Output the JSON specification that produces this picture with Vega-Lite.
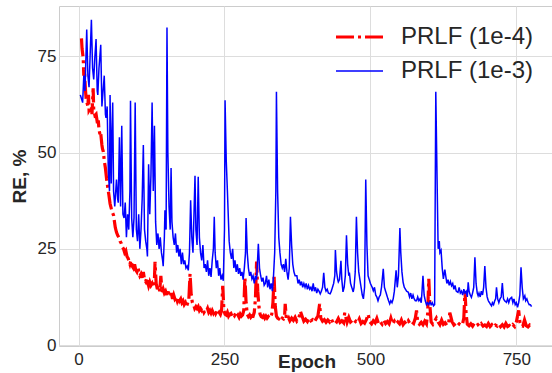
{
"$schema": "https://vega.github.io/schema/vega-lite/v6.json",
"width": 495, "height": 340,
"autosize": "none",
"padding": {"left": 59, "top": 6, "right": 0, "bottom": 27},
"background": "white",
"config": {"view": {"stroke": "#cccccc", "strokeWidth": 1}, "font": "Liberation Sans"},
"datasets": {
"red": [{"epoch":5,"re":79.7},{"epoch":6,"re":77},{"epoch":8,"re":74.5},{"epoch":9,"re":70},{"epoch":10,"re":72},{"epoch":11,"re":68.5},{"epoch":12,"re":66},{"epoch":13,"re":64},{"epoch":14,"re":63.3},{"epoch":16,"re":62},{"epoch":17,"re":65},{"epoch":18,"re":61},{"epoch":20,"re":61.5},{"epoch":22,"re":62},{"epoch":23,"re":60},{"epoch":25,"re":66.7},{"epoch":26,"re":61},{"epoch":28,"re":59.7},{"epoch":30,"re":60},{"epoch":32,"re":58},{"epoch":34,"re":58},{"epoch":35,"re":56},{"epoch":37,"re":54.5},{"epoch":38,"re":55},{"epoch":40,"re":52},{"epoch":41,"re":51},{"epoch":42.5,"re":50.2},{"epoch":44,"re":48},{"epoch":46,"re":46},{"epoch":48,"re":43.2},{"epoch":50,"re":41},{"epoch":52,"re":39},{"epoch":54,"re":36.7},{"epoch":56,"re":35.5},{"epoch":58,"re":34.5},{"epoch":60,"re":33.7},{"epoch":62,"re":31.5},{"epoch":63,"re":30.5},{"epoch":65,"re":29.3},{"epoch":67,"re":28.5},{"epoch":69,"re":28},{"epoch":71,"re":27},{"epoch":73,"re":26.5},{"epoch":75,"re":25.5},{"epoch":77,"re":25},{"epoch":79,"re":24},{"epoch":81,"re":24.5},{"epoch":83,"re":23},{"epoch":85,"re":22.5},{"epoch":87,"re":21.5},{"epoch":88,"re":21},{"epoch":90,"re":22},{"epoch":92,"re":20.5},{"epoch":94,"re":20},{"epoch":96,"re":21},{"epoch":98,"re":19.5},{"epoch":100,"re":19},{"epoch":102,"re":20},{"epoch":104,"re":18.5},{"epoch":105,"re":18},{"epoch":107,"re":18.5},{"epoch":109,"re":17.5},{"epoch":111,"re":19},{"epoch":113,"re":17},{"epoch":115,"re":16.5},{"epoch":117,"re":17.5},{"epoch":119,"re":16},{"epoch":120,"re":15.4},{"epoch":122,"re":16.4},{"epoch":124,"re":15.5},{"epoch":126,"re":16},{"epoch":128,"re":15},{"epoch":130,"re":17},{"epoch":131,"re":21.6},{"epoch":133,"re":16},{"epoch":135,"re":14.5},{"epoch":137,"re":15.5},{"epoch":139,"re":14},{"epoch":141,"re":18},{"epoch":143,"re":13.5},{"epoch":145,"re":14.5},{"epoch":147,"re":13.5},{"epoch":149,"re":14},{"epoch":151,"re":13},{"epoch":153,"re":14.5},{"epoch":155,"re":13},{"epoch":157,"re":12.5},{"epoch":159,"re":13.5},{"epoch":161,"re":12},{"epoch":163,"re":13},{"epoch":165,"re":12},{"epoch":167,"re":12.5},{"epoch":169,"re":11.5},{"epoch":171,"re":12.5},{"epoch":173,"re":11.5},{"epoch":175,"re":12},{"epoch":177,"re":11},{"epoch":179,"re":11.5},{"epoch":181,"re":10.5},{"epoch":183,"re":11},{"epoch":185,"re":10},{"epoch":187,"re":11},{"epoch":189,"re":12},{"epoch":191,"re":18.5},{"epoch":193,"re":13},{"epoch":195,"re":11},{"epoch":197,"re":10.5},{"epoch":199,"re":9.5},{"epoch":201,"re":10},{"epoch":203,"re":9.5},{"epoch":205,"re":10},{"epoch":207,"re":9},{"epoch":209,"re":9.5},{"epoch":211,"re":9},{"epoch":213,"re":9.5},{"epoch":215,"re":8.5},{"epoch":217,"re":9},{"epoch":219,"re":8.8},{"epoch":221,"re":9.5},{"epoch":223,"re":8.5},{"epoch":225,"re":9},{"epoch":227,"re":8.3},{"epoch":229,"re":9},{"epoch":231,"re":8.3},{"epoch":233,"re":9},{"epoch":235,"re":8.2},{"epoch":237,"re":8.8},{"epoch":239,"re":8},{"epoch":241,"re":8.5},{"epoch":243,"re":8},{"epoch":245,"re":9},{"epoch":247,"re":15.4},{"epoch":249,"re":9},{"epoch":251,"re":8},{"epoch":253,"re":7.8},{"epoch":255,"re":8.5},{"epoch":257,"re":7.5},{"epoch":259,"re":8},{"epoch":261,"re":8.2},{"epoch":263,"re":7.5},{"epoch":265,"re":8},{"epoch":267,"re":7.6},{"epoch":269,"re":8.2},{"epoch":271,"re":7.4},{"epoch":273,"re":7.8},{"epoch":275,"re":7.2},{"epoch":277,"re":8},{"epoch":279,"re":7.5},{"epoch":281,"re":7.8},{"epoch":283,"re":9},{"epoch":285,"re":17.7},{"epoch":287,"re":11},{"epoch":289,"re":8},{"epoch":291,"re":7.4},{"epoch":293,"re":7.8},{"epoch":295,"re":7.2},{"epoch":297,"re":7.6},{"epoch":299,"re":7.5},{"epoch":301,"re":8.5},{"epoch":303,"re":12},{"epoch":305,"re":21.7},{"epoch":307,"re":14},{"epoch":309,"re":10},{"epoch":311,"re":8},{"epoch":313,"re":7.4},{"epoch":315,"re":7.2},{"epoch":317,"re":7.6},{"epoch":319,"re":7},{"epoch":321,"re":7.5},{"epoch":323,"re":7},{"epoch":325,"re":7.4},{"epoch":327,"re":7},{"epoch":329,"re":7.2},{"epoch":331,"re":8},{"epoch":333,"re":11},{"epoch":335,"re":17.7},{"epoch":337,"re":10},{"epoch":339,"re":7.5},{"epoch":341,"re":7},{"epoch":343,"re":6.8},{"epoch":345,"re":7.2},{"epoch":347,"re":6.6},{"epoch":349,"re":7},{"epoch":351,"re":6.8},{"epoch":353,"re":7.5},{"epoch":354,"re":10.7},{"epoch":356,"re":6.8},{"epoch":358,"re":6.5},{"epoch":360,"re":7},{"epoch":362,"re":6.3},{"epoch":365,"re":7.0},{"epoch":368,"re":6.4},{"epoch":371,"re":7.2},{"epoch":374,"re":6.2},{"epoch":377,"re":6.8},{"epoch":380,"re":8.8},{"epoch":383,"re":7.5},{"epoch":386,"re":6.2},{"epoch":389,"re":6.7},{"epoch":392,"re":6.1},{"epoch":395,"re":7.0},{"epoch":398,"re":6.3},{"epoch":401,"re":6.6},{"epoch":404,"re":6.0},{"epoch":407,"re":6.8},{"epoch":410,"re":7.5},{"epoch":413,"re":10.7},{"epoch":415,"re":7.0},{"epoch":418,"re":6.2},{"epoch":421,"re":6.6},{"epoch":424,"re":5.9},{"epoch":427,"re":6.5},{"epoch":430,"re":6.0},{"epoch":433,"re":6.8},{"epoch":436,"re":5.8},{"epoch":439,"re":6.4},{"epoch":442,"re":6.0},{"epoch":445,"re":6.9},{"epoch":448,"re":5.9},{"epoch":451,"re":6.3},{"epoch":454,"re":5.8},{"epoch":456,"re":8.4},{"epoch":460,"re":5.9},{"epoch":463,"re":7.2},{"epoch":466,"re":6.0},{"epoch":469,"re":6.4},{"epoch":472,"re":5.7},{"epoch":475,"re":6.2},{"epoch":478,"re":5.8},{"epoch":481,"re":6.8},{"epoch":484,"re":5.6},{"epoch":487,"re":6.1},{"epoch":490,"re":5.7},{"epoch":493,"re":6.6},{"epoch":496,"re":8.0},{"epoch":499,"re":6.0},{"epoch":502,"re":5.5},{"epoch":505,"re":6.3},{"epoch":508,"re":5.8},{"epoch":511,"re":6.9},{"epoch":514,"re":5.5},{"epoch":517,"re":6.0},{"epoch":520,"re":5.4},{"epoch":523,"re":6.4},{"epoch":526,"re":5.6},{"epoch":529,"re":6.1},{"epoch":532,"re":5.5},{"epoch":535,"re":7.0},{"epoch":538,"re":5.5},{"epoch":541,"re":6.2},{"epoch":544,"re":5.4},{"epoch":547,"re":6.0},{"epoch":550,"re":5.5},{"epoch":553,"re":6.5},{"epoch":556,"re":5.3},{"epoch":559,"re":5.9},{"epoch":562,"re":5.4},{"epoch":565,"re":6.3},{"epoch":568,"re":5.5},{"epoch":571,"re":6.0},{"epoch":574,"re":5.6},{"epoch":577,"re":7.0},{"epoch":579,"re":9.0},{"epoch":581,"re":6.0},{"epoch":584,"re":5.4},{"epoch":587,"re":5.9},{"epoch":590,"re":5.3},{"epoch":593,"re":6.2},{"epoch":596,"re":5.5},{"epoch":598,"re":8},{"epoch":600,"re":17.2},{"epoch":602,"re":10},{"epoch":604,"re":6.0},{"epoch":607,"re":5.4},{"epoch":610,"re":6.2},{"epoch":613,"re":7.0},{"epoch":616,"re":6.0},{"epoch":619,"re":5.3},{"epoch":622,"re":6.5},{"epoch":625,"re":5.4},{"epoch":628,"re":5.8},{"epoch":631,"re":5.1},{"epoch":634,"re":5.7},{"epoch":636,"re":8.4},{"epoch":640,"re":6.0},{"epoch":643,"re":5.2},{"epoch":646,"re":5.6},{"epoch":649,"re":5.0},{"epoch":652,"re":5.5},{"epoch":655,"re":5.1},{"epoch":658,"re":5.6},{"epoch":660,"re":7},{"epoch":662,"re":14},{"epoch":664,"re":8},{"epoch":666,"re":5.4},{"epoch":669,"re":5.0},{"epoch":672,"re":5.5},{"epoch":675,"re":4.9},{"epoch":678,"re":5.6},{"epoch":681,"re":5.0},{"epoch":684,"re":5.3},{"epoch":687,"re":4.8},{"epoch":690,"re":5.5},{"epoch":693,"re":4.9},{"epoch":696,"re":5.2},{"epoch":699,"re":4.8},{"epoch":702,"re":5.6},{"epoch":705,"re":4.8},{"epoch":708,"re":5.3},{"epoch":711,"re":4.7},{"epoch":714,"re":5.2},{"epoch":717,"re":4.9},{"epoch":720,"re":5.5},{"epoch":723,"re":4.8},{"epoch":726,"re":5.3},{"epoch":729,"re":4.7},{"epoch":732,"re":5.6},{"epoch":735,"re":4.8},{"epoch":738,"re":5.1},{"epoch":741,"re":4.7},{"epoch":744,"re":5.3},{"epoch":747,"re":4.8},{"epoch":750,"re":6},{"epoch":752,"re":7.5},{"epoch":754,"re":9},{"epoch":756,"re":6},{"epoch":758,"re":5},{"epoch":761,"re":4.9},{"epoch":764,"re":6.5},{"epoch":767,"re":5},{"epoch":770,"re":4.7},{"epoch":773,"re":5.2},{"epoch":776,"re":4.8}],
"blue": [{"epoch":3,"re":65},{"epoch":5,"re":64},{"epoch":7,"re":63},{"epoch":9,"re":70},{"epoch":11,"re":66},{"epoch":14,"re":82},{"epoch":16,"re":70},{"epoch":18,"re":67},{"epoch":20,"re":76},{"epoch":22,"re":84.5},{"epoch":24,"re":72},{"epoch":26,"re":69},{"epoch":28,"re":75},{"epoch":30,"re":79.5},{"epoch":32,"re":66},{"epoch":33,"re":65},{"epoch":35,"re":72},{"epoch":38,"re":78},{"epoch":40,"re":62},{"epoch":42,"re":66},{"epoch":44,"re":70},{"epoch":46,"re":60},{"epoch":47,"re":59},{"epoch":49,"re":62},{"epoch":51,"re":45},{"epoch":53,"re":40},{"epoch":54,"re":65},{"epoch":56,"re":42},{"epoch":57,"re":53},{"epoch":58.5,"re":63},{"epoch":60,"re":40},{"epoch":62,"re":36},{"epoch":65,"re":43},{"epoch":67,"re":38},{"epoch":68,"re":37},{"epoch":70,"re":54},{"epoch":72,"re":36},{"epoch":74,"re":57},{"epoch":76,"re":34},{"epoch":78,"re":33},{"epoch":80,"re":37},{"epoch":82,"re":28},{"epoch":84,"re":34},{"epoch":86,"re":30},{"epoch":88,"re":40},{"epoch":89,"re":63.5},{"epoch":91,"re":33},{"epoch":93,"re":28},{"epoch":95,"re":33},{"epoch":97,"re":63},{"epoch":99,"re":30},{"epoch":101,"re":27},{"epoch":103,"re":34},{"epoch":105,"re":25},{"epoch":107,"re":30},{"epoch":109,"re":38},{"epoch":111,"re":52},{"epoch":113,"re":30},{"epoch":115,"re":27},{"epoch":117,"re":25},{"epoch":118,"re":23},{"epoch":120,"re":47},{"epoch":122,"re":34},{"epoch":124,"re":44},{"epoch":126,"re":63},{"epoch":128,"re":40},{"epoch":130,"re":57},{"epoch":132,"re":32},{"epoch":134,"re":26},{"epoch":136,"re":29},{"epoch":138,"re":25},{"epoch":140,"re":28},{"epoch":142,"re":24},{"epoch":144,"re":22},{"epoch":145,"re":20.5},{"epoch":147,"re":28},{"epoch":148,"re":35},{"epoch":150,"re":30},{"epoch":151.5,"re":82.5},{"epoch":153,"re":50},{"epoch":155,"re":36},{"epoch":157,"re":30},{"epoch":158.5,"re":46},{"epoch":160,"re":32},{"epoch":162,"re":28},{"epoch":164,"re":26},{"epoch":166,"re":29},{"epoch":168,"re":24},{"epoch":170,"re":26},{"epoch":172,"re":23},{"epoch":174,"re":25},{"epoch":176,"re":21},{"epoch":178,"re":24},{"epoch":180,"re":21},{"epoch":182,"re":22},{"epoch":184,"re":20},{"epoch":186,"re":20.5},{"epoch":188,"re":19.4},{"epoch":190,"re":24},{"epoch":192,"re":37.6},{"epoch":194,"re":28},{"epoch":196,"re":24},{"epoch":199.5,"re":44},{"epoch":201,"re":30},{"epoch":203,"re":26},{"epoch":205,"re":43.7},{"epoch":207,"re":28},{"epoch":209,"re":24},{"epoch":211,"re":22},{"epoch":213,"re":26},{"epoch":215,"re":20},{"epoch":217,"re":21},{"epoch":219,"re":19},{"epoch":221,"re":22},{"epoch":223,"re":18},{"epoch":225,"re":20},{"epoch":227,"re":17.7},{"epoch":229,"re":22},{"epoch":231,"re":25},{"epoch":232.5,"re":33.3},{"epoch":234,"re":24},{"epoch":236,"re":20},{"epoch":238,"re":22},{"epoch":240,"re":18},{"epoch":242,"re":20},{"epoch":244,"re":17},{"epoch":246,"re":18},{"epoch":248,"re":16.7},{"epoch":250,"re":30},{"epoch":251,"re":63.6},{"epoch":253,"re":48},{"epoch":255,"re":40},{"epoch":258,"re":27},{"epoch":260,"re":24},{"epoch":262,"re":22.4},{"epoch":264,"re":25},{"epoch":266,"re":20},{"epoch":268,"re":22},{"epoch":270,"re":19},{"epoch":272,"re":21},{"epoch":274,"re":18.5},{"epoch":276,"re":20},{"epoch":278,"re":18},{"epoch":280,"re":19},{"epoch":282,"re":17},{"epoch":284,"re":20},{"epoch":286,"re":24},{"epoch":287,"re":33},{"epoch":289,"re":24},{"epoch":291,"re":20},{"epoch":293,"re":18},{"epoch":295,"re":19},{"epoch":297,"re":17.2},{"epoch":299,"re":18},{"epoch":301,"re":16},{"epoch":303,"re":18},{"epoch":305,"re":17},{"epoch":306,"re":20},{"epoch":308,"re":26.3},{"epoch":310,"re":20},{"epoch":312,"re":18},{"epoch":314,"re":16.5},{"epoch":316,"re":17.5},{"epoch":318,"re":15.5},{"epoch":320,"re":16},{"epoch":322,"re":18},{"epoch":324,"re":15},{"epoch":326,"re":17},{"epoch":328,"re":14.5},{"epoch":330,"re":16},{"epoch":332,"re":14},{"epoch":334,"re":18},{"epoch":336,"re":24},{"epoch":338,"re":40},{"epoch":339,"re":65.8},{"epoch":341,"re":40},{"epoch":343,"re":28},{"epoch":345,"re":24},{"epoch":347,"re":21},{"epoch":349,"re":20},{"epoch":351,"re":21},{"epoch":353,"re":19},{"epoch":355,"re":22.4},{"epoch":357,"re":19},{"epoch":359,"re":17},{"epoch":361,"re":20},{"epoch":363,"re":33.3},{"epoch":365,"re":26},{"epoch":367,"re":21},{"epoch":369,"re":19},{"epoch":371,"re":18},{"epoch":374,"re":18},{"epoch":376,"re":16},{"epoch":378,"re":17},{"epoch":380,"re":15.5},{"epoch":382,"re":16.5},{"epoch":384,"re":15},{"epoch":386,"re":16},{"epoch":388,"re":15},{"epoch":390,"re":16},{"epoch":392,"re":14.5},{"epoch":394,"re":15.5},{"epoch":396,"re":14.5},{"epoch":398,"re":15},{"epoch":400,"re":14},{"epoch":402,"re":16},{"epoch":404,"re":14},{"epoch":406,"re":15},{"epoch":408,"re":13.5},{"epoch":410,"re":14.5},{"epoch":412,"re":14},{"epoch":414,"re":13.3},{"epoch":416,"re":14},{"epoch":418,"re":15},{"epoch":420,"re":18.8},{"epoch":422,"re":15},{"epoch":424,"re":14},{"epoch":426,"re":14.5},{"epoch":428,"re":13.5},{"epoch":431,"re":13.3},{"epoch":433,"re":14},{"epoch":435,"re":15},{"epoch":437,"re":16},{"epoch":439,"re":18},{"epoch":440,"re":24.7},{"epoch":442,"re":19},{"epoch":444,"re":17},{"epoch":445,"re":16.4},{"epoch":447,"re":17},{"epoch":449.5,"re":21.9},{"epoch":451,"re":17},{"epoch":453,"re":13.8},{"epoch":455,"re":15},{"epoch":457,"re":18},{"epoch":459,"re":28.5},{"epoch":461,"re":21},{"epoch":463,"re":18},{"epoch":464,"re":18.8},{"epoch":466,"re":16},{"epoch":468,"re":15},{"epoch":470.5,"re":13.8},{"epoch":472,"re":15},{"epoch":474,"re":19},{"epoch":476,"re":33.3},{"epoch":478,"re":24},{"epoch":480,"re":19},{"epoch":482,"re":17},{"epoch":484,"re":15},{"epoch":486,"re":13},{"epoch":488,"re":12},{"epoch":490,"re":15},{"epoch":492,"re":43},{"epoch":494,"re":26},{"epoch":496,"re":18},{"epoch":498,"re":17},{"epoch":500,"re":16},{"epoch":503,"re":15},{"epoch":505,"re":14.1},{"epoch":507,"re":15},{"epoch":509,"re":13},{"epoch":511,"re":12.5},{"epoch":513,"re":11.5},{"epoch":515,"re":12.5},{"epoch":517,"re":13},{"epoch":519,"re":15},{"epoch":522,"re":19.8},{"epoch":524,"re":15},{"epoch":526,"re":14},{"epoch":528,"re":13},{"epoch":530,"re":12},{"epoch":533,"re":10.7},{"epoch":535,"re":11.5},{"epoch":537,"re":11},{"epoch":539,"re":12},{"epoch":541,"re":14},{"epoch":544,"re":19.4},{"epoch":546,"re":15},{"epoch":548,"re":18},{"epoch":550.5,"re":30.4},{"epoch":552,"re":24},{"epoch":554,"re":19},{"epoch":556,"re":16.3},{"epoch":558,"re":15},{"epoch":560,"re":14.5},{"epoch":562,"re":14},{"epoch":565,"re":13.7},{"epoch":567,"re":12.5},{"epoch":569,"re":13.5},{"epoch":571,"re":12},{"epoch":573,"re":13},{"epoch":575,"re":12},{"epoch":577,"re":11.5},{"epoch":579,"re":11.5},{"epoch":581,"re":12.5},{"epoch":583,"re":11.5},{"epoch":585,"re":12},{"epoch":587,"re":11},{"epoch":588,"re":13},{"epoch":590,"re":18},{"epoch":592,"re":13},{"epoch":594,"re":11.5},{"epoch":596,"re":10.5},{"epoch":598,"re":11},{"epoch":600,"re":10.5},{"epoch":602,"re":11.2},{"epoch":604,"re":10.5},{"epoch":606,"re":11},{"epoch":608,"re":10.2},{"epoch":610,"re":10.5},{"epoch":612,"re":65.8},{"epoch":614,"re":45},{"epoch":616,"re":25},{"epoch":618,"re":27},{"epoch":619,"re":24},{"epoch":621,"re":24.6},{"epoch":623,"re":20},{"epoch":625,"re":17.2},{"epoch":627.5,"re":19.6},{"epoch":629,"re":18},{"epoch":631,"re":16},{"epoch":633,"re":17},{"epoch":635,"re":15.5},{"epoch":637,"re":16.5},{"epoch":639,"re":15.4},{"epoch":641,"re":16},{"epoch":643,"re":14.5},{"epoch":645,"re":15.5},{"epoch":647,"re":14},{"epoch":650,"re":13.7},{"epoch":652,"re":15},{"epoch":654,"re":13.5},{"epoch":656,"re":14},{"epoch":658,"re":13},{"epoch":660,"re":14.5},{"epoch":662,"re":13.5},{"epoch":664,"re":14},{"epoch":666,"re":12.5},{"epoch":667.5,"re":16.3},{"epoch":669,"re":14},{"epoch":671,"re":13},{"epoch":673,"re":12.4},{"epoch":675,"re":13.5},{"epoch":677,"re":15},{"epoch":679,"re":22.8},{"epoch":681,"re":16},{"epoch":683,"re":13.5},{"epoch":684.5,"re":12.8},{"epoch":686,"re":13.5},{"epoch":688,"re":12.5},{"epoch":690,"re":14},{"epoch":692,"re":13},{"epoch":694,"re":15},{"epoch":696,"re":20.5},{"epoch":698,"re":15},{"epoch":700,"re":12.5},{"epoch":702,"re":11.5},{"epoch":704,"re":11},{"epoch":706,"re":10.5},{"epoch":707.5,"re":10.2},{"epoch":709,"re":11},{"epoch":711,"re":10.5},{"epoch":713,"re":11.5},{"epoch":714.5,"re":12},{"epoch":716,"re":15},{"epoch":718,"re":12},{"epoch":720,"re":11},{"epoch":722,"re":12},{"epoch":724,"re":12.5},{"epoch":726,"re":16.1},{"epoch":728,"re":12},{"epoch":730,"re":11.5},{"epoch":733,"re":11.1},{"epoch":735,"re":12},{"epoch":737,"re":11},{"epoch":739,"re":12},{"epoch":742,"re":12.4},{"epoch":744,"re":11},{"epoch":746,"re":12},{"epoch":748,"re":10.5},{"epoch":750,"re":11},{"epoch":752,"re":9.8},{"epoch":754,"re":11},{"epoch":756,"re":13},{"epoch":758,"re":20.2},{"epoch":760,"re":15},{"epoch":762,"re":12},{"epoch":764.5,"re":12.8},{"epoch":766,"re":11.5},{"epoch":768,"re":12},{"epoch":770,"re":11.1},{"epoch":772,"re":10.5},{"epoch":774,"re":10.5},{"epoch":776,"re":10}]
},
"layer": [
{
"data": {"name": "red"},
"mark": {"type": "line", "strokeCap": "butt", "clip": true},
"encoding": {
"x": {"field": "epoch", "type": "quantitative", "scale": {"domain": [-33.5, 814.5], "nice": false, "zero": false},
"axis": {"values": [0, 250, 500, 750], "title": "Epoch", "grid": true, "gridColor": "#dddddd", "ticks": false, "domain": false, "labelFontSize": 17, "labelColor": "#262626", "labelPadding": 5, "titleFontSize": 19, "titleFontWeight": "bold", "titleColor": "#262626", "titleY": 21, "titleBaseline": "alphabetic"}},
"y": {"field": "re", "type": "quantitative", "scale": {"domain": [-0.25, 88.1], "nice": false, "zero": false},
"axis": {"values": [0, 25, 50, 75], "title": "RE, %", "grid": true, "gridColor": "#dddddd", "ticks": false, "domain": false, "labelFontSize": 17, "labelColor": "#262626", "labelPadding": 3, "titleFontSize": 19, "titleFontWeight": "bold", "titleColor": "#262626", "titleX": -33.5, "titleBaseline": "alphabetic"}},
"color": {"datum": "PRLF (1e-4)", "type": "nominal", "scale": {"domain": ["PRLF (1e-4)", "PRLF (1e-3)"], "range": ["#ff0000", "#0000ff"]},
"legend": {"orient": "none", "legendX": 275, "legendY": 15, "title": null, "labelFontSize": 24, "labelColor": "#262626", "labelFont": "Liberation Sans", "symbolType": "stroke", "symbolSize": 2209, "labelOffset": 16, "clipHeight": 32, "rowPadding": 2, "padding": 0, "labelLimit": 300}},
"strokeDash": {"datum": "PRLF (1e-4)", "type": "nominal", "scale": {"domain": ["PRLF (1e-4)", "PRLF (1e-3)"], "range": [[18, 4, 3, 4], [1, 0]]}},
"strokeWidth": {"datum": "PRLF (1e-4)", "type": "ordinal", "scale": {"domain": ["PRLF (1e-4)", "PRLF (1e-3)"], "range": [3.2, 1.5]}}
}
},
{
"data": {"name": "blue"},
"mark": {"type": "line", "strokeCap": "butt", "clip": true},
"encoding": {
"x": {"field": "epoch", "type": "quantitative"},
"y": {"field": "re", "type": "quantitative"},
"color": {"datum": "PRLF (1e-3)", "type": "nominal"},
"strokeDash": {"datum": "PRLF (1e-3)", "type": "nominal"},
"strokeWidth": {"datum": "PRLF (1e-3)", "type": "ordinal"}
}
}
]
}
